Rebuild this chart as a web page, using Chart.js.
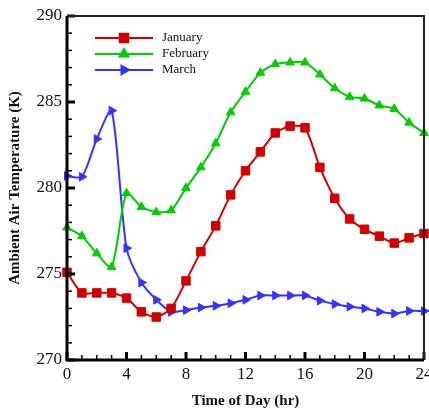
<!DOCTYPE html>
<html>
<head>
<meta charset="utf-8">
<script src="https://cdn.jsdelivr.net/npm/chart.js@4.4.0/dist/chart.umd.min.js"></script>
<style>
  html, body { margin:0; padding:0; background:#fff; }
  #wrap { width:429px; height:410px; }
</style>
</head>
<body>
<div id="wrap"><canvas id="c" width="429" height="410"></canvas></div>
<script>
// datos
const horas = [0,1,2,3,4,5,6,7,8,9,10,11,12,13,14,15,16,17,18,19,20,21,22,23,24];
const enero = [275.1,273.9,273.9,273.9,273.6,272.8,272.5,273.0,274.6,276.3,277.8,279.6,281.0,282.1,283.2,283.6,283.5,281.2,279.4,278.2,277.6,277.2,276.8,277.1,277.35];
const febrero = [277.7,277.2,276.2,275.4,279.7,278.9,278.6,278.7,280.0,281.2,282.6,284.4,285.6,286.7,287.2,287.3,287.3,286.6,285.8,285.3,285.2,284.8,284.6,283.8,283.2];
const marzo = [280.7,280.65,282.85,284.5,276.5,274.5,273.5,272.8,272.9,273.05,273.15,273.3,273.5,273.75,273.75,273.75,273.75,273.45,273.25,273.1,273.0,272.8,272.7,272.85,272.85];
const series = ['January','February','March'];
const xTicks = [0,4,8,12,16,20,24];
const yTicks = [270,275,280,285,290];

const FONT = "'Liberation Serif', 'Times New Roman', serif";
const colores = ['#d00000','#00cc00','#3333ff'];
const estilos = ['rect','triangle','triangle'];
const rotaciones = [0,0,90];
const radios = [6,5,5];

// Marco, ticks hacia adentro y leyenda
const marcoPlugin = {
  id:'marco',
  afterDatasetsDraw(chart){
    const {ctx, chartArea:a, scales:{x,y}} = chart;
    ctx.save();
    ctx.strokeStyle = '#000';
    for(let h=0; h<=24; h++){
      const px = x.getPixelForValue(h);
      const len = (h%4===0) ? 8 : 5;
      ctx.lineWidth = (h%4===0) ? 3 : 1.5;
      ctx.beginPath(); ctx.moveTo(px, a.bottom); ctx.lineTo(px, a.bottom-len); ctx.stroke();
    }
    for(let v=270; v<=290; v++){
      const py = y.getPixelForValue(v);
      const len = (v%5===0) ? 8 : 5;
      ctx.lineWidth = (v%5===0) ? 3 : 1.5;
      ctx.beginPath(); ctx.moveTo(a.left, py); ctx.lineTo(a.left+len, py); ctx.stroke();
    }
    // marco
    ctx.lineWidth = 2;
    ctx.strokeStyle = '#222';
    ctx.beginPath();
    ctx.moveTo(a.left, a.top); ctx.lineTo(a.right, a.top); ctx.lineTo(a.right, a.bottom);
    ctx.stroke();
    ctx.lineWidth = 3;
    ctx.strokeStyle = '#000';
    ctx.beginPath();
    ctx.moveTo(a.left, a.top); ctx.lineTo(a.left, a.bottom); ctx.lineTo(a.right, a.bottom);
    ctx.stroke();
    // leyenda
    const filas = [38, 54, 70];
    ctx.font = '13px ' + FONT;
    ctx.textBaseline = 'middle';
    ctx.textAlign = 'left';
    series.forEach((s,i)=>{
      ctx.strokeStyle = colores[i];
      ctx.fillStyle = colores[i];
      ctx.lineWidth = 2;
      ctx.beginPath(); ctx.moveTo(95, filas[i]); ctx.lineTo(153, filas[i]); ctx.stroke();
      Chart.helpers.drawPoint(ctx, {pointStyle: estilos[i], radius: radios[i], rotation: rotaciones[i], borderWidth: 1}, 124, filas[i]);
      ctx.fillStyle = '#111';
      ctx.fillText(s, 162, filas[i]);
    });
    ctx.restore();
  }
};

const sinPadding = () => ({left:0, right:0, top:0, bottom:0});

const datos = [enero, febrero, marzo];
const datasets = series.map((s,i)=>({
  label: s,
  data: horas.map((h,j)=>({x:h, y:datos[i][j]})),
  borderColor: colores[i],
  backgroundColor: colores[i],
  pointBackgroundColor: colores[i],
  pointBorderColor: colores[i],
  borderWidth: 2,
  pointStyle: estilos[i],
  pointRotation: rotaciones[i],
  pointRadius: radios[i],
  pointBorderWidth: 1,
  tension: 0.25,
  clip: false
}));

new Chart(document.getElementById('c'), {
  type: 'line',
  data: { datasets },
  options: {
    responsive: false,
    animation: false,
    layout: { autoPadding: false, padding: { top: 16, right: 5, left: 0, bottom: 0 } },
    plugins: { legend: { display:false }, tooltip: { enabled:false } },
    scales: {
      x: {
        type: 'linear', min: 0, max: 24,
        afterBuildTicks(sc){ sc.ticks = xTicks.map(v=>({value:v})); },
        afterFit(sc){ sc.height = 50; sc.paddingLeft = 0; sc.paddingRight = 0; sc.getPadding = sinPadding; },
        grid: { display:false, drawTicks:false },
        border: { display:false },
        ticks: { color:'#111', font:{ family:FONT, size:17 }, padding: 4, maxRotation:0, autoSkip:false },
        title: { display:true, text:'Time of Day (hr)', color:'#111', font:{ family:FONT, size:15, weight:'bold' }, padding:{ top:2, bottom:0 } }
      },
      y: {
        type: 'linear', min: 270, max: 290,
        afterBuildTicks(sc){ sc.ticks = yTicks.map(v=>({value:v})); },
        afterFit(sc){ sc.width = 67; sc.paddingTop = 0; sc.paddingBottom = 0; sc.getPadding = sinPadding; },
        grid: { display:false, drawTicks:false },
        border: { display:false },
        ticks: { color:'#111', font:{ family:FONT, size:17 }, padding: 5 },
        title: { display:true, text:'Ambient Air Temperature (K)', color:'#111', font:{ family:FONT, size:15, weight:'bold' }, padding:{ top:6, bottom:0 } }
      }
    }
  },
  plugins: [marcoPlugin]
});
</script>
</body>
</html>
